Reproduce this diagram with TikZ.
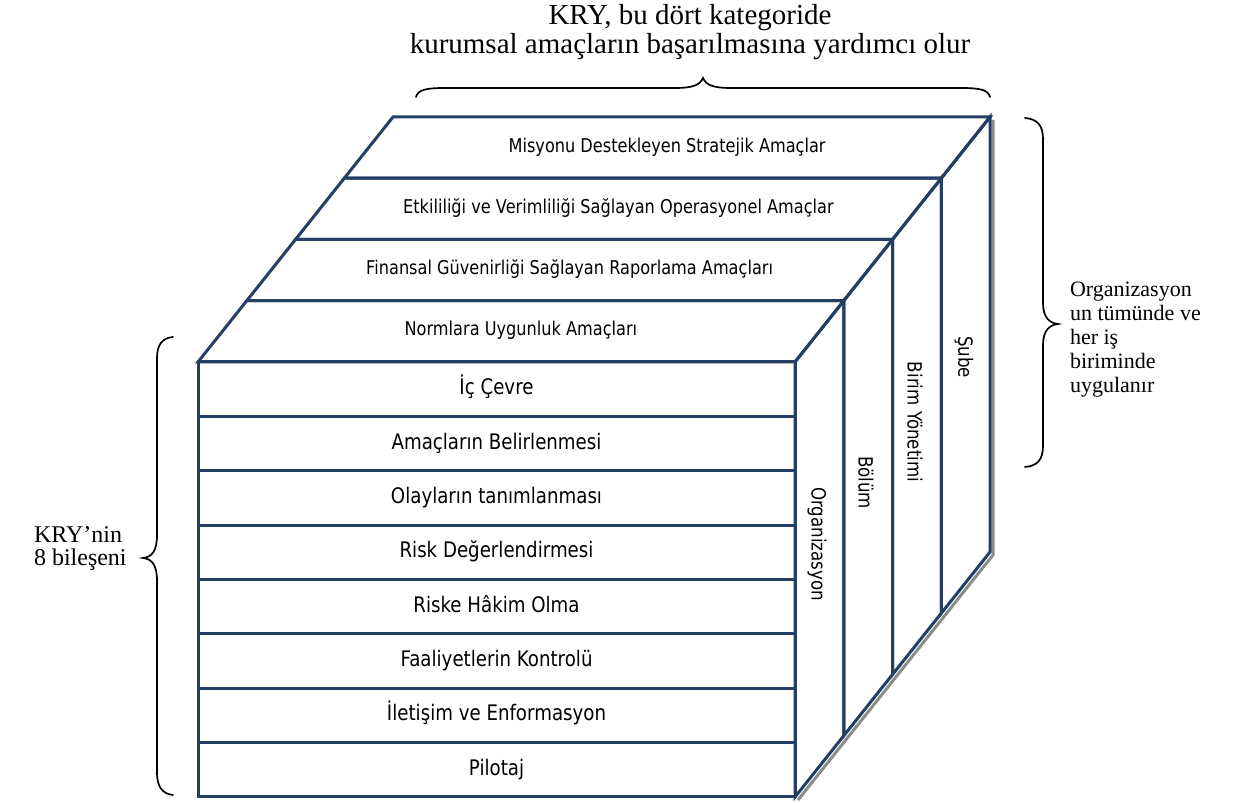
\documentclass[tikz,border=0pt]{standalone}
\usepackage{fontspec}
\setmainfont{Liberation Serif}
\newfontfamily\panelfont{DejaVu Sans}[FakeStretch=0.85]
\begin{document}
\begin{tikzpicture}[x=0.5pt,y=0.5pt,
  cubeline/.style={draw=lineColor,line width=1.5pt,line join=miter},
  shadowline/.style={draw=shadowColor,line width=1.5pt},
  bracepath/.style={draw=black,line width=0.85pt,line cap=round},
  rowlabel/.style={text=black,anchor=base,inner sep=0pt,outer sep=0pt,font=\panelfont\fontsize{10.7}{12}\selectfont},
  slablabel/.style={text=black,anchor=base,inner sep=0pt,outer sep=0pt,font=\panelfont\fontsize{9.5}{11}\selectfont},
  sidelabel/.style={text=black,rotate=-90,anchor=center,inner sep=0pt,outer sep=0pt,font=\panelfont\fontsize{9.8}{11}\selectfont},
  notetext/.style={text=black,inner sep=0pt,outer sep=0pt,font=\fontsize{12}{11.6}\selectfont}]
\definecolor{lineColor}{RGB}{36,63,99}
\definecolor{shadowColor}{RGB}{140,140,140}
\path[use as bounding box,fill=white] (0,0) rectangle (1253,803);

\path[shadowline] (993,683) -- (993,248) -- (798,3);

\path[cubeline] (393,686) -- (990,686) -- (941.25,624.75) -- (344.25,624.75) -- cycle;

\path[cubeline] (344.25,624.75) -- (941.25,624.75) -- (892.5,563.5) -- (295.5,563.5) -- cycle;

\path[cubeline] (295.5,563.5) -- (892.5,563.5) -- (843.75,502.25) -- (246.75,502.25) -- cycle;

\path[cubeline] (246.75,502.25) -- (843.75,502.25) -- (795,441) -- (198,441) -- cycle;

\path[cubeline] (795,441) -- (843.75,502.25) -- (843.75,67.25) -- (795,6) -- cycle;

\path[cubeline] (843.75,502.25) -- (892.5,563.5) -- (892.5,128.5) -- (843.75,67.25) -- cycle;

\path[cubeline] (892.5,563.5) -- (941.25,624.75) -- (941.25,189.75) -- (892.5,128.5) -- cycle;

\path[cubeline] (941.25,624.75) -- (990,686) -- (990,251) -- (941.25,189.75) -- cycle;

\path[cubeline] (198,441) rectangle (795,6);

\path[cubeline] (198,386.6) -- (795,386.6);

\path[cubeline] (198,332.25) -- (795,332.25);

\path[cubeline] (198,277.9) -- (795,277.9);

\path[cubeline] (198,223.5) -- (795,223.5);

\path[cubeline] (198,169.1) -- (795,169.1);

\path[cubeline] (198,114.75) -- (795,114.75);

\path[cubeline] (198,60.4) -- (795,60.4);

\node[slablabel] (misyon) at (667.1,650.9) {Misyonu Destekleyen Stratejik Amaçlar};

\node[slablabel] (operasyon) at (618.4,589.6) {Etkililiği ve Verimliliği Sağlayan Operasyonel Amaçlar};

\node[slablabel] (raporlama) at (569.6,528.4) {Finansal Güvenirliği Sağlayan Raporlama Amaçları};

\node[slablabel] (normlar) at (520.9,467.1) {Normlara Uygunluk Amaçları};

\node[rowlabel] (icCevre) at (496.5,408.3) {İç Çevre};

\node[rowlabel] (amaclar) at (496.5,353.9) {Amaçların Belirlenmesi};

\node[rowlabel] (olaylar) at (496.5,299.6) {Olayların tanımlanması};

\node[rowlabel] (riskDeger) at (496.5,245.2) {Risk Değerlendirmesi};

\node[rowlabel] (riskHakim) at (496.5,190.8) {Riske Hâkim Olma};

\node[rowlabel] (kontrol) at (496.5,136.4) {Faaliyetlerin Kontrolü};

\node[rowlabel] (iletisim) at (496.5,82.1) {İletişim ve Enformasyon};

\node[rowlabel] (pilotaj) at (496.5,27.7) {Pilotaj};

\node[sidelabel] (organizasyon) at (817,259) {Organizasyon};

\node[sidelabel] (bolum) at (866,320.4) {Bölüm};

\node[sidelabel] (birim) at (915,381) {Birim Yönetimi};

\node[sidelabel] (sube) at (964,446) {Şube};

\path[bracepath] (416,706) .. controls (418,713) and (425,715) .. (445,715) -- (675,715)
  .. controls (693,715) and (700,718) .. (703,725)
  .. controls (706,718) and (713,715) .. (731,715) -- (961,715)
  .. controls (981,715) and (988,713) .. (990,706);

\path[bracepath] (173,466) .. controls (162,465) and (157,458) .. (157,445) -- (157,268)
  .. controls (157,252) and (152,246) .. (143,245)
  .. controls (152,244) and (157,238) .. (157,222) -- (157,30)
  .. controls (157,17) and (162,9) .. (173,8);

\path[bracepath] (1025,685) .. controls (1037,684) and (1043,678) .. (1043,664) -- (1043,500)
  .. controls (1043,486) and (1049,480) .. (1058,479)
  .. controls (1049,478) and (1043,472) .. (1043,458) -- (1043,357)
  .. controls (1043,343) and (1037,337) .. (1025,336);

\node[notetext,align=center,font=\fontsize{14.5}{14.5}\selectfont] (topnote) at (690,771) {KRY, bu dört kategoride\\kurumsal amaçların başarılmasına yardımcı olur};

\node[notetext,align=left,anchor=west] (leftnote) at (34,254.5) {KRY’nin\\8 bileşeni};

\node[notetext,align=left,anchor=west,font=\fontsize{11}{12}\selectfont] (rightnote) at (1070,463.5) {Organizasyon\\un tümünde ve\\her iş\\biriminde\\uygulanır};
\end{tikzpicture}
\end{document}
